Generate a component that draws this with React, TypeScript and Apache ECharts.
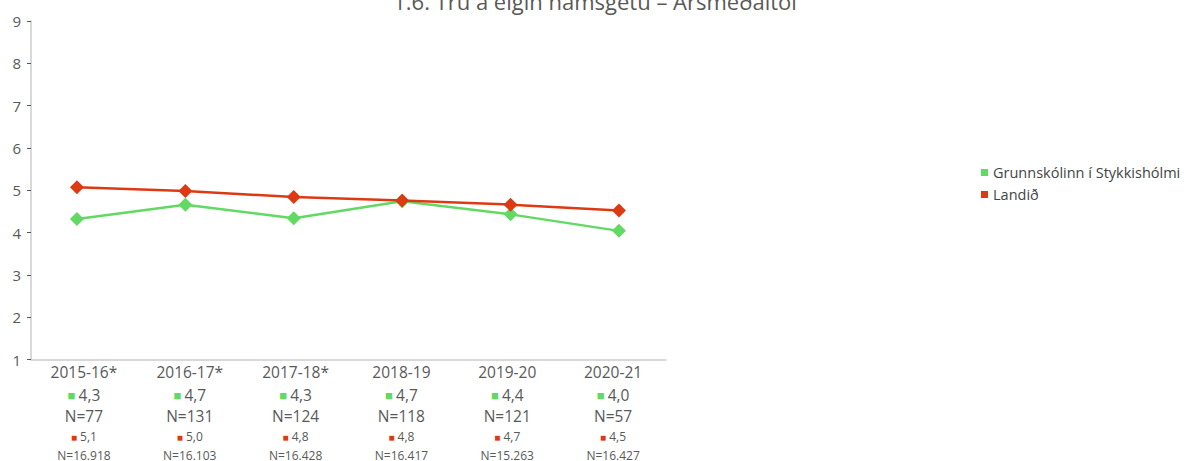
import React, { useEffect, useRef } from "react";
import * as echarts from "echarts";

const titleText = "1.6. Trú á eigin námsgetu – Ársmeðaltöl";
const categories = ["2015-16*", "2016-17*", "2017-18*", "2018-19", "2019-20", "2020-21"];
const schoolName = "Grunnskólinn í Stykkishólmi";
const nationalName = "Landið";
const schoolValues = [4.32, 4.66, 4.34, 4.74, 4.43, 4.04];
const nationalValues = [5.07, 4.98, 4.84, 4.76, 4.66, 4.52];
const schoolN = ["77", "131", "124", "118", "121", "57"];
const nationalN = ["16.918", "16.103", "16.428", "16.417", "15.263", "16.427"];
const yTicks = [1, 9, 1]; // min, max, interval

const GREEN = "#62d962";
const RED = "#dd3a14";
const TEXT = "#595959";
const FONT = "'Open Sans', sans-serif";

const fmt = (v: number) => v.toFixed(1).replace(".", ",");

export default function App() {
  const ref = useRef<HTMLDivElement>(null);
  useEffect(() => {
    if (!ref.current) return;
    const chart = echarts.init(ref.current, undefined, { renderer: "svg" });
    chart.setOption({
      animation: false,
      textStyle: { fontFamily: FONT },
      title: {
        text: titleText,
        left: "center",
        top: -15,
        textStyle: { fontFamily: FONT, fontSize: 22, fontWeight: "normal", color: TEXT },
      },
      legend: {
        orient: "vertical",
        left: 976,
        top: 160,
        itemWidth: 7,
        itemHeight: 7,
        itemGap: 7,
        icon: "rect",
        textStyle: { fontFamily: FONT, fontSize: 14.5, color: "#444" },
        data: [schoolName, nationalName],
      },
      grid: { left: 31, top: 21, width: 635, bottom: 100 },
      xAxis: [
        {
          type: "category",
          data: categories,
          boundaryGap: true,
          axisLine: { onZero: false, lineStyle: { color: "#cccccc", width: 1.5 } },
          axisTick: { show: false },
          axisLabel: {
            margin: 0,
            interval: 0,
            formatter: (_v: string, i: number) =>
              `{cat|${categories[i]}}\n{gs|■} {gv|${fmt(schoolValues[i])}}\n{n|N=${schoolN[i]}}\n{rs|■} {rv|${fmt(
                nationalValues[i]
              )}}\n{rn|N=${nationalN[i]}}`,
            rich: {
              cat: { fontFamily: FONT, fontSize: 15.5, color: TEXT, lineHeight: 24 },
              gs: { fontFamily: FONT, fontSize: 13, color: GREEN, lineHeight: 22 },
              gv: { fontFamily: FONT, fontSize: 15.5, color: TEXT, lineHeight: 22 },
              n: { fontFamily: FONT, fontSize: 15.5, color: TEXT, lineHeight: 21 },
              rs: { fontFamily: FONT, fontSize: 10, color: RED, lineHeight: 20 },
              rv: { fontFamily: FONT, fontSize: 12, color: TEXT, lineHeight: 20 },
              rn: { fontFamily: FONT, fontSize: 12, color: TEXT, lineHeight: 17 },
            },
          },
        },
        {
          type: "value",
          min: -0.424,
          max: 5.434,
          show: false,
        },
      ],
      yAxis: {
        type: "value",
        min: yTicks[0],
        max: yTicks[1],
        interval: yTicks[2],
        splitLine: { show: false },
        axisLine: { show: true, onZero: false, lineStyle: { color: "#cccccc", width: 1.5 } },
        axisTick: { show: true, length: 4, lineStyle: { color: "#555" } },
        axisLabel: { margin: 10, fontFamily: FONT, fontSize: 15, color: TEXT },
      },
      series: [
        {
          name: schoolName,
          type: "line",
          xAxisIndex: 1,
          data: schoolValues.map((v, i) => [i, v]),
          symbol: "diamond",
          symbolSize: 14,
          itemStyle: { color: GREEN },
          lineStyle: { color: GREEN, width: 2.5 },
          z: 2,
        },
        {
          name: nationalName,
          type: "line",
          xAxisIndex: 1,
          data: nationalValues.map((v, i) => [i, v]),
          symbol: "diamond",
          symbolSize: 14,
          itemStyle: { color: RED },
          lineStyle: { color: RED, width: 2.5 },
          z: 3,
        },
      ],
    });
    return () => chart.dispose();
  }, []);
  return <div ref={ref} style={{ width: 1190, height: 461, position: "absolute", left: 0, top: 0 }} />;
}
